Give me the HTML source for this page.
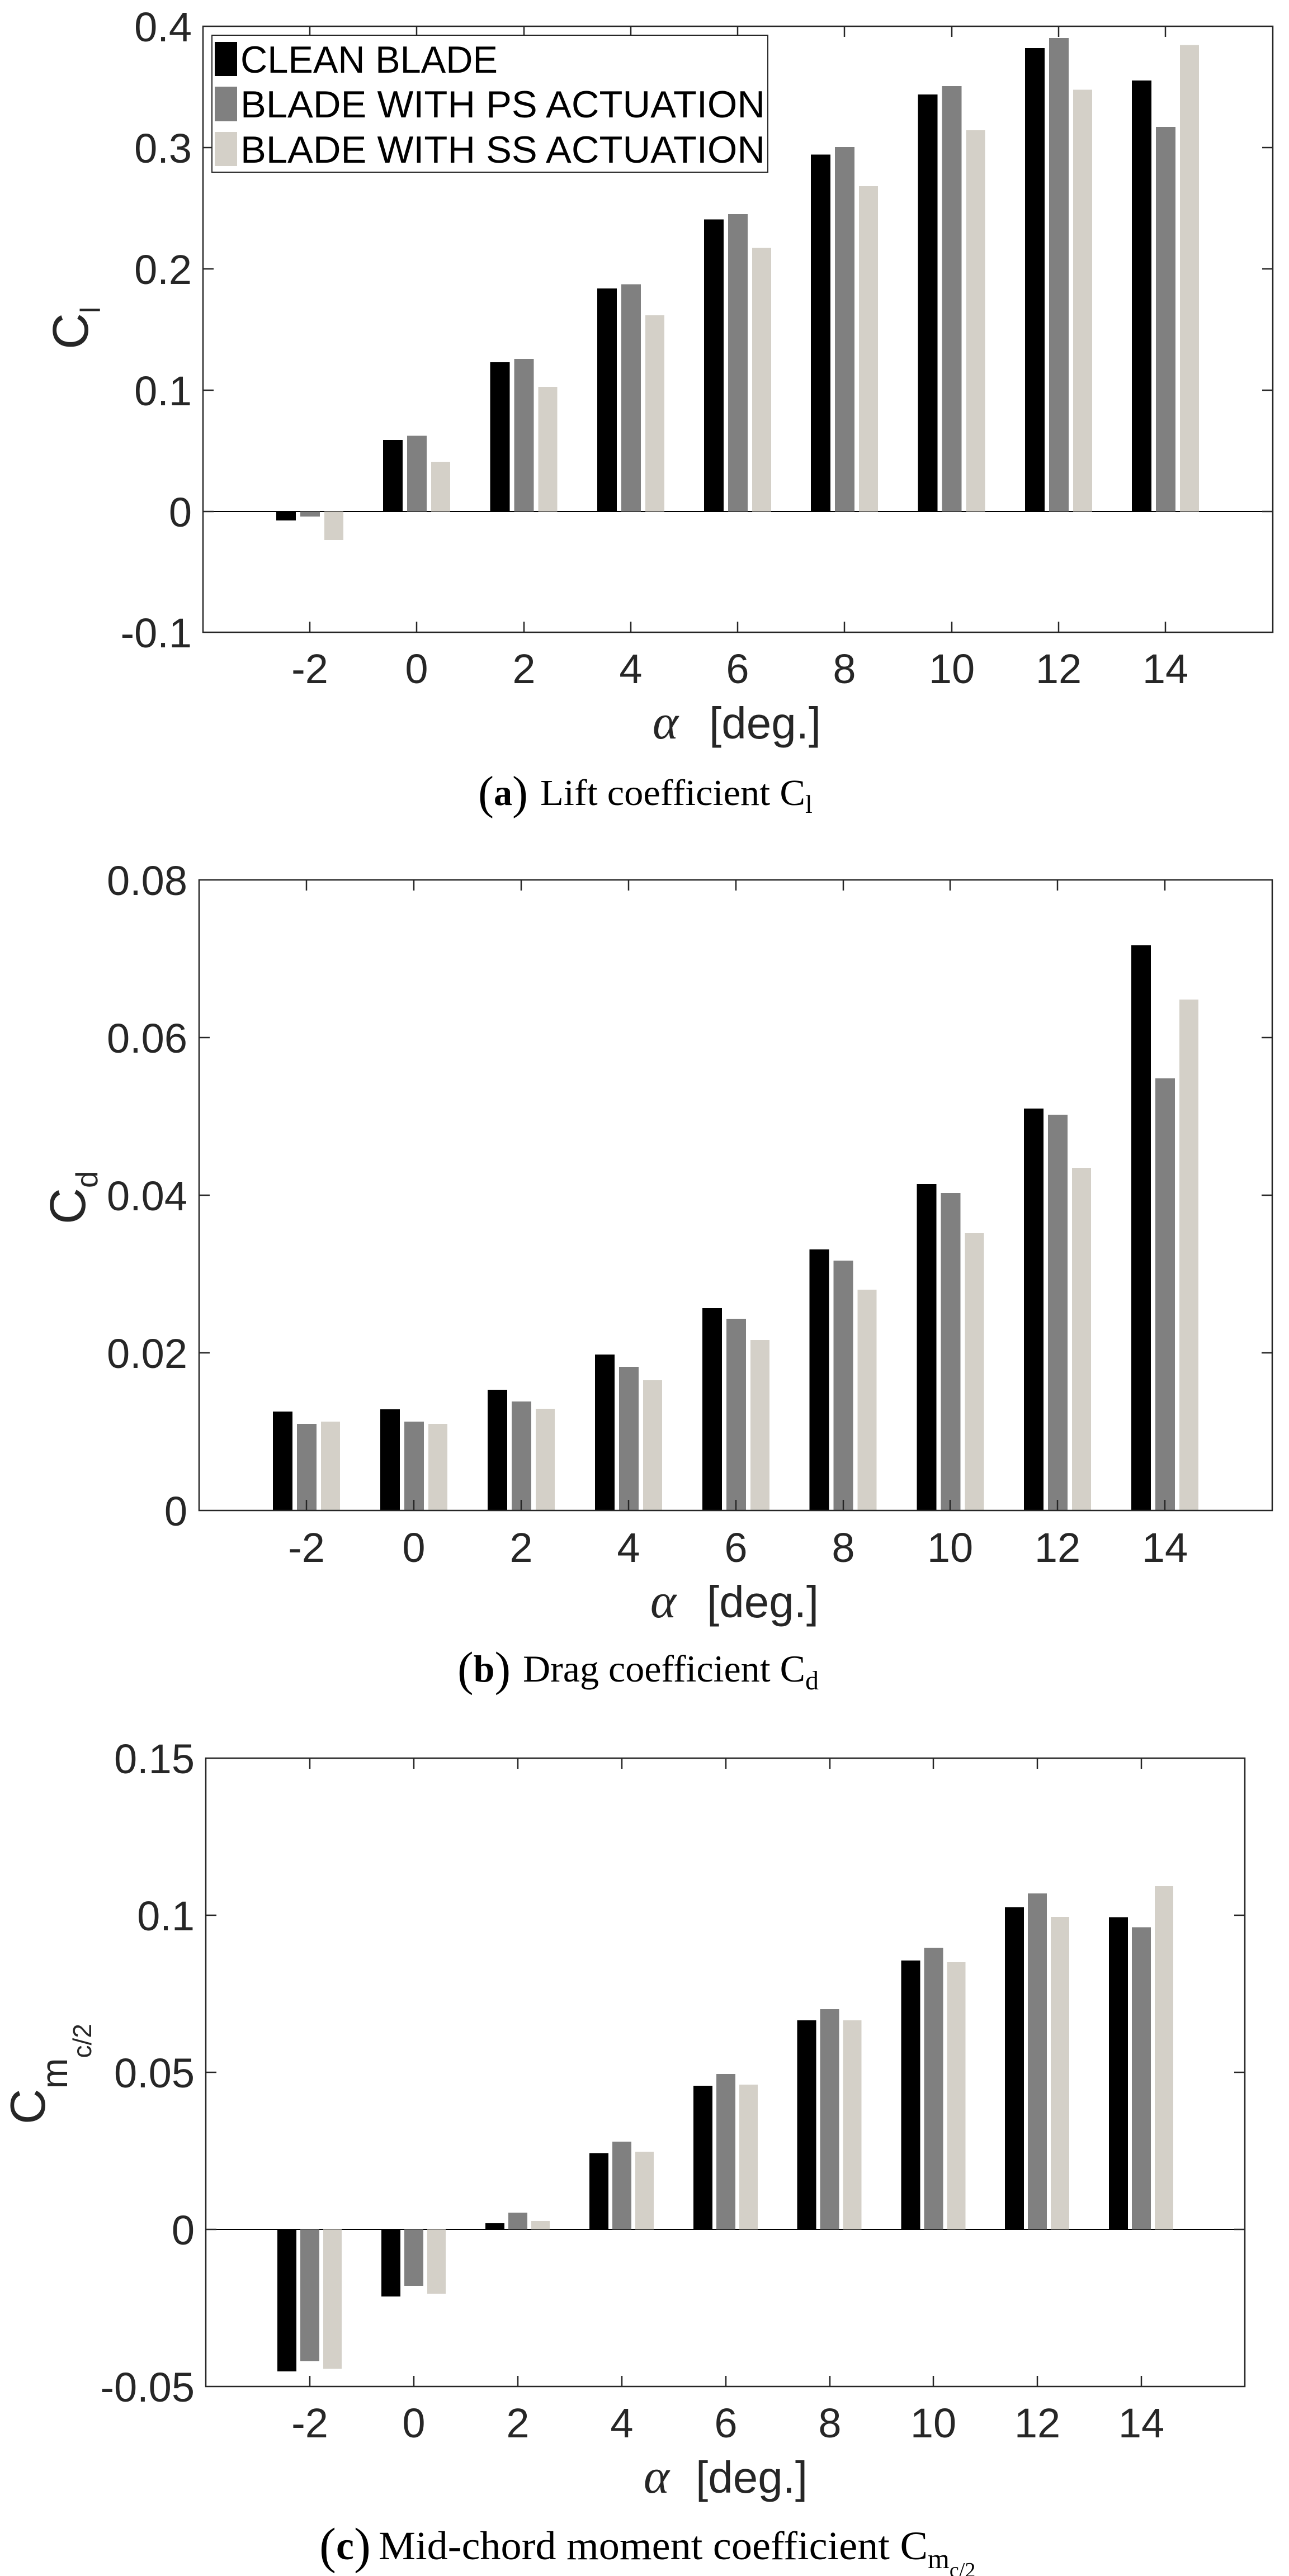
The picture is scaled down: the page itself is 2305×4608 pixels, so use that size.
<!DOCTYPE html>
<html><head><meta charset="utf-8"><style>
html,body{margin:0;padding:0;background:#fff;}
svg{display:block;}
.tk{font-family:"Liberation Sans",sans-serif;font-size:74px;fill:#262626;}
.lg{font-family:"Liberation Sans",sans-serif;font-size:68px;fill:#000;}
.cap{font-family:"Liberation Serif",serif;fill:#000;}
.ax{stroke:#262626;stroke-width:2.5;fill:none;}
</style></head><body>
<svg width="2305" height="4608" viewBox="0 0 2305 4608" xmlns="http://www.w3.org/2000/svg">
<rect width="2305" height="4608" fill="#fff"/>

<!-- ============ PLOT A ============ -->
<g>
<line x1="363" y1="915" x2="2276" y2="915" stroke="#000" stroke-width="2"/>
<g fill="#000">
<rect x="494" y="915" width="35" height="16"/><rect x="685" y="787" width="35" height="128"/><rect x="876.5" y="648" width="35" height="267"/><rect x="1068" y="516" width="35" height="399"/><rect x="1259" y="392.5" width="35" height="522.5"/><rect x="1450" y="276.5" width="35" height="638.5"/><rect x="1641.5" y="169" width="35" height="746"/><rect x="1833" y="86" width="35" height="829"/><rect x="2024" y="144" width="35" height="771"/>
</g>
<g fill="#808080">
<rect x="537" y="915" width="35" height="9"/><rect x="728" y="779.5" width="35" height="135.5"/><rect x="919.5" y="642" width="35" height="273"/><rect x="1111" y="508.5" width="35" height="406.5"/><rect x="1302" y="383" width="35" height="532"/><rect x="1493" y="263" width="35" height="652"/><rect x="1684.5" y="154" width="35" height="761"/><rect x="1876" y="68" width="35" height="847"/><rect x="2067" y="227" width="35" height="688"/>
</g>
<g fill="#d4d0c8">
<rect x="580" y="915" width="34" height="51"/><rect x="771" y="826" width="34" height="89"/><rect x="962.5" y="692" width="34" height="223"/><rect x="1154" y="564" width="34" height="351"/><rect x="1345" y="443.5" width="34" height="471.5"/><rect x="1536" y="333" width="34" height="582"/><rect x="1727.5" y="233" width="34" height="682"/><rect x="1919" y="160.5" width="34" height="754.5"/><rect x="2110" y="80.5" width="34" height="834.5"/>
</g>
<rect class="ax" x="363" y="47" width="1913" height="1084"/>
<path class="ax" d="M363 264h19M363 481h19M363 698h19M363 915h19M2276 264h-19M2276 481h-19M2276 698h-19M2276 915h-19
M554 1131v-19M745 1131v-19M937 1131v-19M1128 1131v-19M1319 1131v-19M1510 1131v-19M1702 1131v-19M1893 1131v-19M2084 1131v-19
M554 47v19M745 47v19M937 47v19M1128 47v19M1319 47v19M1510 47v19M1702 47v19M1893 47v19M2084 47v19"/>
<g class="tk" text-anchor="end">
<text x="343" y="74">0.4</text><text x="343" y="291">0.3</text><text x="343" y="508">0.2</text><text x="343" y="725">0.1</text><text x="343" y="942">0</text><text x="343" y="1158">-0.1</text>
</g>
<g class="tk" text-anchor="middle">
<text x="554" y="1222">-2</text><text x="745" y="1222">0</text><text x="937" y="1222">2</text><text x="1128" y="1222">4</text><text x="1319" y="1222">6</text><text x="1510" y="1222">8</text><text x="1702" y="1222">10</text><text x="1893" y="1222">12</text><text x="2084" y="1222">14</text>
</g>
<text transform="translate(157,625) rotate(-90)" class="tk" style="font-size:90px">C<tspan dy="22" style="font-size:50px">l</tspan></text>
<text x="1190" y="1321" text-anchor="middle" style="font-family:'Liberation Serif',serif;font-style:italic;font-size:88px;fill:#262626">α</text>
<text x="1268" y="1321" style="font-family:'Liberation Sans',sans-serif;font-size:80px;fill:#262626">[deg.]</text>
<!-- legend -->
<rect x="379" y="63" width="994" height="245" fill="#fff" stroke="#262626" stroke-width="2"/>
<rect x="384" y="75" width="40" height="61" fill="#000"/>
<rect x="384" y="155" width="40" height="62" fill="#808080"/>
<rect x="384" y="236" width="40" height="61" fill="#d4d0c8"/>
<text class="lg" x="430" y="130" textLength="460" lengthAdjust="spacingAndGlyphs">CLEAN BLADE</text>
<text class="lg" x="430" y="210" textLength="938" lengthAdjust="spacingAndGlyphs">BLADE WITH PS ACTUATION</text>
<text class="lg" x="430" y="291" textLength="938" lengthAdjust="spacingAndGlyphs">BLADE WITH SS ACTUATION</text>
<text class="cap" x="855" y="1440" style="font-size:66px"><tspan style="font-size:84px" dy="6">(</tspan><tspan dy="-6" font-weight="bold">a</tspan><tspan style="font-size:84px" dy="6">)</tspan><tspan dy="-6" x="966" textLength="474" lengthAdjust="spacingAndGlyphs">Lift coefficient C</tspan><tspan dy="14" style="font-size:46px">l</tspan></text>
</g>

<!-- ============ PLOT B ============ -->
<g>
<g fill="#000">
<rect x="488" y="2525" width="35" height="177"/><rect x="680" y="2521" width="35" height="181"/><rect x="872" y="2486" width="35" height="216"/><rect x="1064" y="2423" width="35" height="279"/><rect x="1256" y="2340" width="35" height="362"/><rect x="1447.5" y="2235" width="35" height="467"/><rect x="1639.5" y="2118" width="35" height="584"/><rect x="1831" y="1983" width="35" height="719"/><rect x="2023" y="1691" width="35" height="1011"/>
</g>
<g fill="#808080">
<rect x="531" y="2547" width="35" height="155"/><rect x="723" y="2543" width="35" height="159"/><rect x="915" y="2507" width="35" height="195"/><rect x="1107" y="2445" width="35" height="257"/><rect x="1299" y="2359" width="35" height="343"/><rect x="1490.5" y="2255" width="35" height="447"/><rect x="1682.5" y="2134" width="35" height="568"/><rect x="1874" y="1994" width="35" height="708"/><rect x="2066" y="1929" width="35" height="773"/>
</g>
<g fill="#d4d0c8">
<rect x="574" y="2543" width="34" height="159"/><rect x="766" y="2547" width="34" height="155"/><rect x="958" y="2520" width="34" height="182"/><rect x="1150" y="2469" width="34" height="233"/><rect x="1342" y="2397" width="34" height="305"/><rect x="1533.5" y="2307" width="34" height="395"/><rect x="1725.5" y="2206" width="34" height="496"/><rect x="1917" y="2089" width="34" height="613"/><rect x="2109" y="1788" width="34" height="914"/>
</g>
<rect class="ax" x="356" y="1574" width="1919" height="1128"/>
<path class="ax" d="M356 1856h19M356 2138h19M356 2420h19M2275 1856h-19M2275 2138h-19M2275 2420h-19
M548 2702v-19M740 2702v-19M932 2702v-19M1124 2702v-19M1316 2702v-19M1508 2702v-19M1699 2702v-19M1891 2702v-19M2083 2702v-19
M548 1574v19M740 1574v19M932 1574v19M1124 1574v19M1316 1574v19M1508 1574v19M1699 1574v19M1891 1574v19M2083 1574v19"/>
<g class="tk" text-anchor="end">
<text x="335" y="1601">0.08</text><text x="335" y="1883">0.06</text><text x="335" y="2165">0.04</text><text x="335" y="2447">0.02</text><text x="335" y="2729">0</text>
</g>
<g class="tk" text-anchor="middle">
<text x="548" y="2794">-2</text><text x="740" y="2794">0</text><text x="932" y="2794">2</text><text x="1124" y="2794">4</text><text x="1316" y="2794">6</text><text x="1508" y="2794">8</text><text x="1699" y="2794">10</text><text x="1891" y="2794">12</text><text x="2083" y="2794">14</text>
</g>
<text transform="translate(152,2190) rotate(-90)" class="tk" style="font-size:90px">C<tspan dy="22" style="font-size:55px">d</tspan></text>
<text x="1186" y="2893" text-anchor="middle" style="font-family:'Liberation Serif',serif;font-style:italic;font-size:88px;fill:#262626">α</text>
<text x="1264" y="2893" style="font-family:'Liberation Sans',sans-serif;font-size:80px;fill:#262626">[deg.]</text>
<text class="cap" x="818" y="3008" style="font-size:68px"><tspan style="font-size:86px" dy="6">(</tspan><tspan dy="-6" font-weight="bold">b</tspan><tspan style="font-size:86px" dy="6">)</tspan><tspan dy="-6" x="935" textLength="505" lengthAdjust="spacingAndGlyphs">Drag coefficient C</tspan><tspan dy="14" style="font-size:48px">d</tspan></text>
</g>

<!-- ============ PLOT C ============ -->
<g>
<line x1="368" y1="3988" x2="2226" y2="3988" stroke="#000" stroke-width="2"/>
<g fill="#000">
<rect x="496" y="3988" width="34" height="254"/><rect x="682" y="3988" width="34" height="120"/><rect x="868" y="3977" width="34" height="11"/><rect x="1054" y="3851.5" width="34" height="136.5"/><rect x="1240" y="3731" width="34" height="257"/><rect x="1425.5" y="3614" width="34" height="374"/><rect x="1611.5" y="3507" width="34" height="481"/><rect x="1797" y="3411.5" width="34" height="576.5"/><rect x="1983" y="3429.5" width="34" height="558.5"/>
</g>
<g fill="#808080">
<rect x="537" y="3988" width="34" height="235.5"/><rect x="723" y="3988" width="34" height="101"/><rect x="909" y="3958" width="34" height="30"/><rect x="1095" y="3831" width="34" height="157"/><rect x="1281" y="3710" width="34" height="278"/><rect x="1466.5" y="3594" width="34" height="394"/><rect x="1652.5" y="3484.5" width="34" height="503.5"/><rect x="1838" y="3387" width="34" height="601"/><rect x="2024" y="3447.5" width="34" height="540.5"/>
</g>
<g fill="#d4d0c8">
<rect x="578" y="3988" width="33" height="249.5"/><rect x="764" y="3988" width="33" height="115"/><rect x="950" y="3973" width="33" height="15"/><rect x="1136" y="3849" width="33" height="139"/><rect x="1322" y="3729" width="33" height="259"/><rect x="1507.5" y="3614" width="33" height="374"/><rect x="1693.5" y="3510" width="33" height="478"/><rect x="1879" y="3429" width="33" height="559"/><rect x="2065" y="3374" width="33" height="614"/>
</g>
<rect class="ax" x="368" y="3145" width="1858" height="1124"/>
<path class="ax" d="M368 3426h19M368 3707h19M368 3988h19M2226 3426h-19M2226 3707h-19M2226 3988h-19
M554 4269v-19M740 4269v-19M926 4269v-19M1112 4269v-19M1298 4269v-19M1484 4269v-19M1669 4269v-19M1855 4269v-19M2041 4269v-19
M554 3145v19M740 3145v19M926 3145v19M1112 3145v19M1298 3145v19M1484 3145v19M1669 3145v19M1855 3145v19M2041 3145v19"/>
<g class="tk" text-anchor="end">
<text x="348" y="3172">0.15</text><text x="348" y="3453">0.1</text><text x="348" y="3734">0.05</text><text x="348" y="4015">0</text><text x="348" y="4296">-0.05</text>
</g>
<g class="tk" text-anchor="middle">
<text x="554" y="4360">-2</text><text x="740" y="4360">0</text><text x="926" y="4360">2</text><text x="1112" y="4360">4</text><text x="1298" y="4360">6</text><text x="1484" y="4360">8</text><text x="1669" y="4360">10</text><text x="1855" y="4360">12</text><text x="2041" y="4360">14</text>
</g>
<text transform="translate(80,3800) rotate(-90)" class="tk" style="font-size:88px">C<tspan dy="40" style="font-size:66px">m</tspan><tspan dy="43" style="font-size:46px">c/2</tspan></text>
<text x="1174" y="4459" text-anchor="middle" style="font-family:'Liberation Serif',serif;font-style:italic;font-size:88px;fill:#262626">α</text>
<text x="1244" y="4459" style="font-family:'Liberation Sans',sans-serif;font-size:80px;fill:#262626">[deg.]</text>
<text class="cap" x="571" y="4578" style="font-size:72px"><tspan style="font-size:90px" dy="6">(</tspan><tspan dy="-6" font-weight="bold">c</tspan><tspan style="font-size:90px" dy="6">)</tspan><tspan dy="-6" x="677" textLength="982" lengthAdjust="spacingAndGlyphs">Mid-chord moment coefficient C</tspan><tspan dy="16" style="font-size:50px">m</tspan><tspan dy="16" style="font-size:38px">c/2</tspan></text>
</g>
</svg>
</body></html>
